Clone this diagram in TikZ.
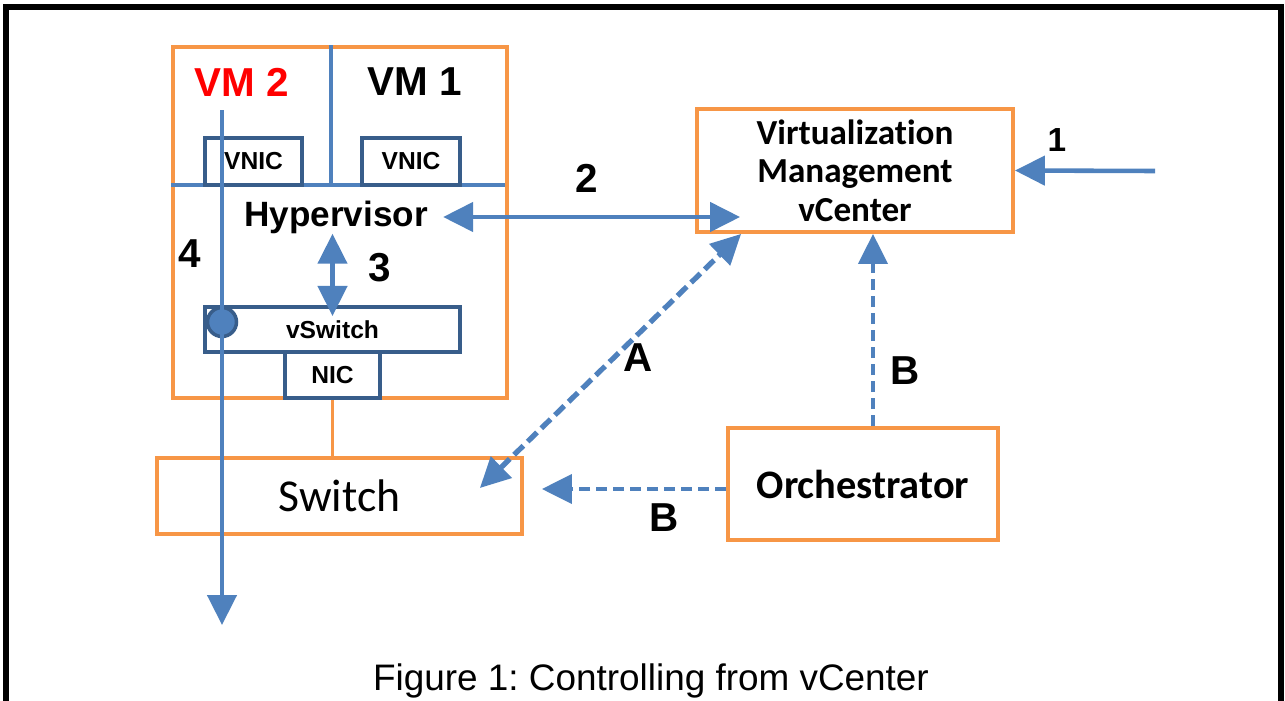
\documentclass[tikz,border=0pt]{standalone}
\usepackage{fontspec}
\setmainfont{Liberation Sans}
\newfontfamily\calibri[Ligatures=NoCommon, RawFeature=-liga]{Carlito}
\usetikzlibrary{arrows.meta}
\definecolor{boxorange}{HTML}{F79646}
\definecolor{linkblue}{HTML}{4F81BD}
\definecolor{portblue}{HTML}{385D8A}
\definecolor{vmred}{HTML}{FF0000}

\begin{document}
\begin{tikzpicture}[x=0.02cm, y=-0.02cm,
        obox/.style={draw=boxorange, line width=2.2pt, fill=white, inner sep=0pt},
        bbox/.style={draw=portblue, line width=2.3pt, fill=white, inner sep=0pt,
            font=\bfseries\fontsize{14}{16}\selectfont},
        lbl/.style={font=\bfseries\fontsize{23}{26}\selectfont},
        tip/.style={-{Triangle[length=0.6cm, width=0.58cm]}},
        dbltip/.style={{Triangle[length=0.6cm, width=0.58cm]}-{Triangle[length=0.6cm, width=0.58cm]}},
        link/.style={draw=linkblue, line width=2.6pt},
        dashA/.style={draw=linkblue, line width=3pt, dash pattern=on 0.26cm off 0.12cm},
        dashB/.style={draw=linkblue, line width=2.3pt, dash pattern=on 0.22cm off 0.12cm}
    ]
    \useasboundingbox (0,0) rectangle (1285,700);

    % --- frame ---
    \draw[line width=3.4pt] (6,720) -- (6,7) -- (1281,7) -- (1281,720);

    % --- host with VM 2 and VM 1 ---
    \node[obox, minimum width=6.68cm, minimum height=7.02cm] (host) at (340,222.5) {};
    \draw[link] (host.west) ++(0,-37.5) -- ++(334,0);
    \draw[link] ([xshift=-0.18cm]host.north) -- ++(0,138);
    \node[lbl, text=vmred] (vm2) at (242,82) {VM 2};
    \node[lbl] (vm1) at (415,82) {VM 1};
    \node[bbox, minimum width=1.94cm, minimum height=0.94cm] (vnic2) at (253.5,161.5) {VNIC};
    \node[bbox, minimum width=1.96cm, minimum height=0.94cm] (vnic1) at (411,161.5) {VNIC};
    \node[font=\bfseries\fontsize{20}{24}\selectfont, inner sep=0pt] (hyp) at (336,217) {Hypervisor};
    \node[bbox, minimum width=5.1cm, minimum height=0.9cm] (vswitch) at (332.5,329.5) {vSwitch};
    \node[bbox, minimum width=1.9cm, minimum height=0.92cm] (nic) at (332.5,375) {NIC};
    \node[circle, fill=linkblue, draw=portblue, line width=2pt, minimum size=0.58cm, inner sep=0pt] (port) at (222,322) {};

    % --- hypervisor to vSwitch ---
    \draw[link, dbltip] (hyp.south -| vswitch.north) -- ([yshift=-0.22cm]vswitch.north);
    \node[lbl] (n3) at (380,268) {3};

    % --- physical switch ---
    \node[obox, minimum width=7.3cm, minimum height=1.52cm,
        font=\calibri\fontsize{26}{30}\selectfont] (switch) at (339.5,496) {Switch};
    \draw[boxorange, line width=2.2pt] (nic.south) -- (nic.south |- switch.north);

    % --- path 4 through the vSwitch port ---
    \coordinate (vmtap) at (222,110);
    \coordinate (out4) at (222,625);
    \draw[link, tip] (vmtap) -- (out4);
    \node[lbl] (n4) at (190,254) {4};

    % --- vCenter and orchestrator ---
    \node[obox, minimum width=6.32cm, minimum height=2.46cm, align=center,
        font=\calibri\bfseries\fontsize{20}{22}\selectfont] (vcenter) at (855,170.5)
        {Virtualization\\Management\\vCenter};
    \node[obox, minimum width=5.4cm, minimum height=2.24cm,
        font=\calibri\bfseries\fontsize{23}{26}\selectfont] (orch) at (863,484) {Orchestrator};

    \coordinate (ext) at (1155,171);
    \draw[link, tip] (ext) -- (vcenter.east);
    \node[font=\bfseries\fontsize{19}{22}\selectfont] (n1) at (1057,140) {1};

    \draw[link, dbltip] ([xshift=0.3cm]hyp.east) -- ([xshift=0.9cm]vcenter.west |- hyp.east);
    \node[lbl] (n2) at (587,178) {2};

    \draw[dashA, dbltip] ([xshift=-0.88cm, yshift=0.16cm]switch.east) -- ([xshift=0.92cm]vcenter.south west);
    \node[lbl] (na) at (638,358) {A};

    \draw[dashB, tip] ([xshift=0.2cm]orch.north) -- ([xshift=0.2cm]orch.north |- vcenter.south);
    \node[lbl] (nb1) at (905,371) {B};

    \coordinate (bsrc) at ([yshift=-0.1cm]orch.west);
    \draw[dashB, tip] (bsrc) -- ([xshift=0.36cm]switch.east |- bsrc);
    \node[lbl] (nb2) at (664,518) {B};

    % --- caption ---
    \node[font=\frenchspacing\fontsize{21}{25}\selectfont, anchor=base] (cap) at (651,690) {Figure 1: Controlling from vCenter};
\end{tikzpicture}
\end{document}
